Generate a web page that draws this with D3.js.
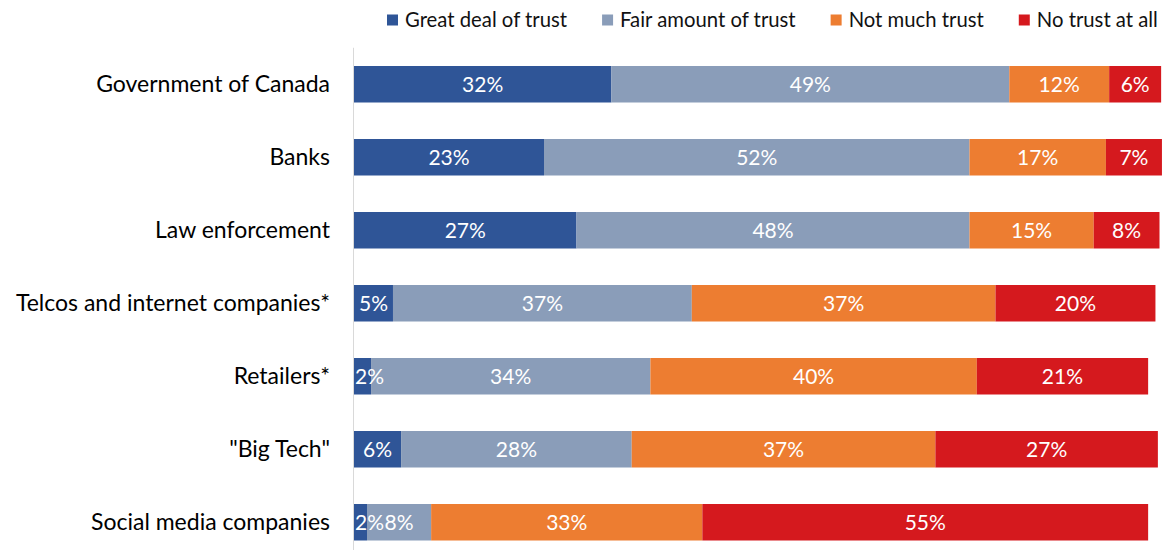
<!DOCTYPE html>
<html>
<head>
<meta charset="utf-8">
<script src="https://cdn.jsdelivr.net/npm/d3@7"></script>
<style>
  html, body { margin: 0; padding: 0; background: #fff; }
  svg { display: block; }
  text { font-family: Lato, "Open Sans", sans-serif; }
</style>
</head>
<body>
<svg id="chart" width="1164" height="550"></svg>
<script>
// Trust in institutions, share of respondents (%)
const categories = [
  "Government of Canada",
  "Banks",
  "Law enforcement",
  "Telcos and internet companies*",
  "Retailers*",
  "\"Big Tech\"",
  "Social media companies"
];
const seriesNames = ["Great deal of trust", "Fair amount of trust", "Not much trust", "No trust at all"];
const greatDeal   = [31.7, 23.4, 27.4, 4.8, 2.1, 5.8, 1.6];
const fairAmount  = [49.0, 52.4, 48.4, 36.8, 34.4, 28.4, 7.9];
const notMuch     = [12.3, 16.8, 15.3, 37.4, 40.2, 37.4, 33.4];
const noTrust     = [6.4, 6.9, 8.1, 19.7, 21.1, 27.4, 54.9];
const colors = ["#2F5597", "#8A9DB9", "#ED7D31", "#D5191E"];

const svg = d3.select("#chart");

const rows = categories.map((c, i) => ({
  category: c,
  "Great deal of trust": greatDeal[i],
  "Fair amount of trust": fairAmount[i],
  "Not much trust": notMuch[i],
  "No trust at all": noTrust[i]
}));
const stacked = d3.stack().keys(seriesNames)(rows);

const x = d3.scaleLinear().domain([0, 100]).range([354, 1166]);
const y = d3.scaleBand().domain(categories).range([47.75, 558.75])
  .paddingInner(0.5).paddingOuter(0.25);
const color = d3.scaleOrdinal().domain(seriesNames).range(colors);
const pct = d3.format(".0f");

// vertical category axis line
svg.append("line")
  .attr("x1", 353.5).attr("x2", 353.5)
  .attr("y1", y.range()[0]).attr("y2", y.range()[1])
  .attr("stroke", "#D9D9D9").attr("stroke-width", 1);

// category labels
const yAxis = d3.axisLeft(y).tickSize(0).tickPadding(0);
const gy = svg.append("g").attr("transform", "translate(330,0)").call(yAxis);
gy.select(".domain").remove();
gy.selectAll("text")
  .attr("font-size", 23)
  .attr("fill", "#000")
  .style("font-family", "Lato, 'Open Sans', sans-serif");

// stacked bars
const layers = svg.append("g").selectAll("g")
  .data(stacked).join("g")
  .attr("fill", d => color(d.key));

layers.selectAll("rect")
  .data(d => d)
  .join("rect")
  .attr("x", d => x(d[0]))
  .attr("y", d => y(d.data.category))
  .attr("width", d => x(d[1]) - x(d[0]))
  .attr("height", y.bandwidth());

// value labels, centred in each segment but kept inside the plot's left edge
const labels = svg.append("g");
stacked.forEach(layer => {
  layer.forEach(d => {
    const v = d[1] - d[0];
    const t = labels.append("text")
      .attr("y", y(d.data.category) + y.bandwidth() / 2)
      .attr("dy", "0.35em")
      .attr("text-anchor", "middle")
      .attr("font-size", 21)
      .attr("fill", "#fff")
      .text(pct(v) + "%");
    const w = t.node().getComputedTextLength();
    const cx = Math.max((x(d[0]) + x(d[1])) / 2, x(0) + 1 + w / 2);
    t.attr("x", cx);
  });
});

// legend
const legend = svg.append("g").attr("transform", "translate(0,20)");
let lx = 387;
seriesNames.forEach(name => {
  const g = legend.append("g").attr("transform", `translate(${lx},0)`);
  g.append("rect").attr("x", 0).attr("y", -5.5).attr("width", 11).attr("height", 11)
    .attr("fill", color(name));
  const t = g.append("text").attr("x", 18).attr("dy", "0.35em")
    .attr("font-size", 20.3).attr("fill", "#111").text(name);
  lx += 18 + t.node().getComputedTextLength() + 35;
});
</script>
</body>
</html>
